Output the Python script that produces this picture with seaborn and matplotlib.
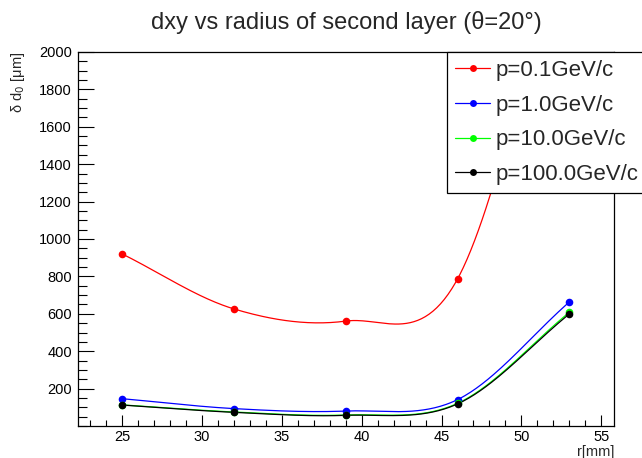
import numpy as np
import matplotlib
matplotlib.use("Agg")
import matplotlib.pyplot as plt
import seaborn as sns
from matplotlib.lines import Line2D
from matplotlib.ticker import MultipleLocator

# radius of second layer [mm]
radius = [25, 32, 39, 46, 53]

# delta d0 [um] for each momentum
d0_p01 = [920, 626, 561, 786, 2760]
d0_p1 = [146, 93, 80, 141, 663]
d0_p10 = [113, 75, 59, 121, 608]
d0_p100 = [112, 73, 57, 118, 599]

labels = ["p=0.1GeV/c", "p=1.0GeV/c", "p=10.0GeV/c", "p=100.0GeV/c"]
colors = ["#ff0000", "#0000ff", "#00ff00", "#000000"]


def smooth_curve(x, y, n=60):
    # cubic Hermite through the points, tangents from neighbouring points
    x = np.asarray(x, float)
    y = np.asarray(y, float)
    m = np.gradient(y, x)
    xs_all, ys_all = [], []
    for i in range(len(x) - 1):
        h = x[i + 1] - x[i]
        s = np.linspace(0, 1, n)
        h00 = 2 * s**3 - 3 * s**2 + 1
        h10 = s**3 - 2 * s**2 + s
        h01 = -2 * s**3 + 3 * s**2
        h11 = s**3 - s**2
        xs_all.append(x[i] + s * h)
        ys_all.append(h00 * y[i] + h10 * h * m[i] + h01 * y[i + 1] + h11 * h * m[i + 1])
    return np.concatenate(xs_all), np.concatenate(ys_all)


sns.set_style("ticks")
plt.rcParams["font.family"] = ["Liberation Sans", "DejaVu Sans"]

fig = plt.figure(figsize=(6.42, 4.58), dpi=100)
ax = fig.add_axes([77.5 / 642, 1 - 426 / 458, (614 - 77.5) / 642, (426 - 52) / 458])

series = [d0_p01, d0_p1, d0_p10, d0_p100]
handles = []
for vals, col, lab in zip(series, colors, labels):
    xs, ys = smooth_curve(radius, vals)
    sns.lineplot(x=xs, y=ys, color=col, lw=0.9, ax=ax, sort=False, estimator=None)
    sns.scatterplot(x=radius, y=vals, color=col, s=30, edgecolor=col, linewidth=0, ax=ax, zorder=3)
    handles.append(Line2D([], [], color=col, lw=0.9, marker="o", markersize=5,
                          markeredgewidth=0, label=lab))

ax.set_xlim(22.2, 55.8)
ax.set_ylim(0, 2000)
ax.xaxis.set_major_locator(MultipleLocator(5))
ax.xaxis.set_minor_locator(MultipleLocator(1))
ax.yaxis.set_minor_locator(MultipleLocator(50))
ax.set_yticks(np.arange(200, 2001, 200))

ax.tick_params(axis="both", which="both", direction="in", width=0.8, colors="black",
               labelsize=10.5)
ax.tick_params(axis="y", which="major", length=11.5, pad=4)
ax.tick_params(axis="y", which="minor", length=6.5)
ax.tick_params(axis="x", which="major", length=8, pad=3)
ax.tick_params(axis="x", which="minor", length=4)
for s in ax.spines.values():
    s.set_visible(True)
    s.set_linewidth(0.9)
    s.set_color("black")

ax.set_xlabel("")
ax.set_ylabel("")
fig.text(614 / 642, 1 - 452 / 458, "r[mm]", ha="right", va="center", fontsize=10.5)
fig.text(18 / 642, 1 - 52 / 458, "δ d$_0$ [μm]", rotation=90, ha="center", va="top",
         fontsize=10.5)
fig.text(346 / 642, 1 - 22 / 458, "dxy vs radius of second layer (θ=20°)",
         ha="center", va="center", fontsize=17)

leg = fig.legend(handles=handles, loc="upper left",
                 bbox_to_anchor=(447 / 642, 1 - 52 / 458), fontsize=16,
                 frameon=True, fancybox=False, framealpha=1, edgecolor="black",
                 borderpad=0.35, labelspacing=0.62, handlelength=1.6,
                 handletextpad=0.25, borderaxespad=0)
leg.get_frame().set_linewidth(0.9)

fig.savefig("out.png", dpi=100)
